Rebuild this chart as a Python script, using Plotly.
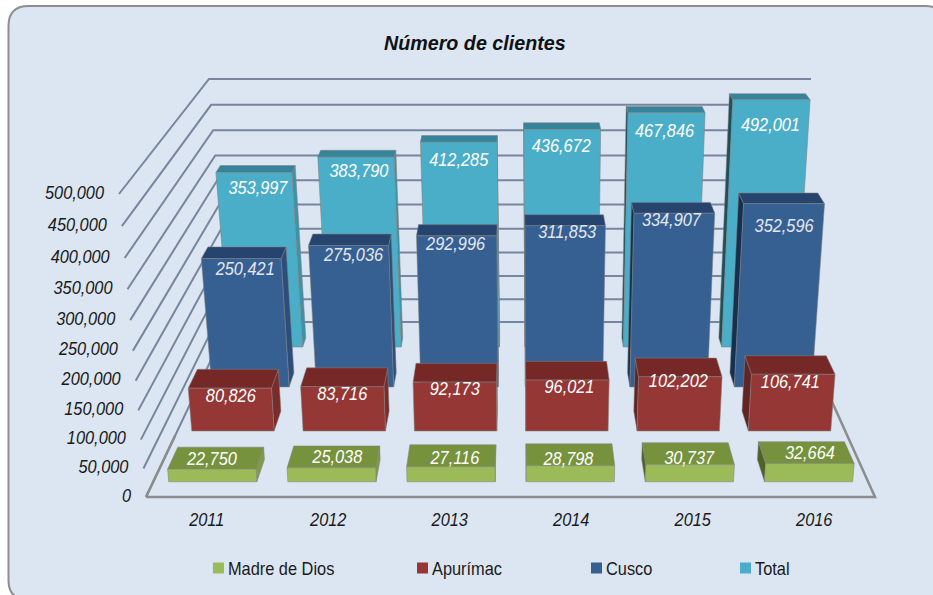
import plotly.graph_objects as go

# ---------- data ----------
years = ["2011", "2012", "2013", "2014", "2015", "2016"]
madre_de_dios = [22750, 25038, 27116, 28798, 30737, 32664]
apurimac = [80826, 83716, 92173, 96021, 102202, 106741]
cusco = [250421, 275036, 292996, 311853, 334907, 352596]
total = [353997, 383790, 412285, 436672, 467846, 492001]
value_ticks = [0, 50000, 100000, 150000, 200000, 250000, 300000, 350000, 400000, 450000, 500000]
title_text = "Número de clientes"

# ---------- 3D view of the chart box, drawn on a pixel-sized cartesian axis ----------
VMAX = 500000
FRONT = dict(xl=146, xr=875, y=497, h=303, ll=27, lr=27)
BACK = dict(xl=229, xr=796, y=322, h=243, ll=20, lr=15)
G = 1.07
BAR_W = 0.37
FONT = "'Liberation Sans', Arial, sans-serif"


def lift(v):
    r = v / VMAX
    return r / (G - (G - 1) * r)


def project(u, t, v):
    f = lift(v)
    lerp = lambda k: FRONT[k] * (1 - t) + BACK[k] * t
    xl = lerp("xl") - lerp("ll") * f
    xr = lerp("xr") + lerp("lr") * f
    return xl + (xr - xl) * u, lerp("y") - lerp("h") * f


rows = [
    dict(name="Total", values=total, t=(0.857, 0.909),
         front="#4BAEC8", top="#35849A", right="#3C93AA", left="#1D4F5C", label="#FFFFFF", dy=18,
         ndx=[4, 3, 0, -1, -2, -1], ndy=[-1, -3, 1, 0, 2, 9]),
    dict(name="Cusco", values=cusco, t=(0.629, 0.709),
         front="#376092", top="#27446E", right="#2B4E7A", left="#16304F", label="#E3E7EE", dy=16,
         ndx=[4, 5, -1, 2, -3, 0], ndy=[-4, -5, -7, -8, -8, 8]),
    dict(name="Apurímac", values=apurimac, t=(0.377, 0.491),
         front="#953735", top="#752826", right="#7B2B29", left="#632423", label="#FFFFFF", dy=9,
         ndx=[1, 0, 0, 2, -2, -3], ndy=[0, 0, -1, -1, -3, 0]),
    dict(name="Madre de Dios", values=madre_de_dios, t=(0.087, 0.214),
         front="#9BBB59", top="#76923C", right="#7F9C45", left="#4F6228", label="#FFFFFF", dy=-9,
         ndx=[0, 6, 4, -2, -1, 0], ndy=[0, -1, 2, 4, 4, 0]),
]
legend_pos = {"Madre de Dios": 0.2127, "Apurímac": 0.4314, "Cusco": 0.6179, "Total": 0.7776}

fig = go.Figure()


def line(xs, ys, color, width):
    fig.add_trace(go.Scatter(x=xs, y=ys, mode="lines", line=dict(color=color, width=width),
                             hoverinfo="skip", showlegend=False))


# walls and floor
for v in value_ticks[1:]:
    p0, p1, p2 = project(0, 0, v), project(0, 1, v), project(1, 1, v)
    line([p0[0], p1[0], p2[0]], [p0[1], p1[1], p2[1]], "#76869F", 2)
p0, p1, p2 = project(0, 1, 0), project(1, 1, 0), project(0, 0, 0)
line([p2[0], p0[0], p1[0]], [p2[1], p0[1], p1[1]], "#76869F", 2)
a, b, c = project(0, 0, 0), project(1, 0, 0), project(1, 1, 0)
line([a[0], b[0], c[0]], [a[1], b[1], c[1]], "#8C8C8C", 2.5)
a2 = project(0, 0.35, 0)
line([a[0], a2[0]], [a[1], a2[1]], "#8C8C8C", 2.5)


def polygons(polys, color):
    xs, ys = [], []
    for poly in polys:
        xs += [p[0] for p in poly] + [poly[0][0], None]
        ys += [p[1] for p in poly] + [poly[0][1], None]
    fig.add_trace(go.Scatter(x=xs, y=ys, mode="lines", fill="toself", fillcolor=color,
                             line=dict(color="rgba(130,130,130,0.55)", width=1),
                             hoverinfo="skip", showlegend=False))


n = len(years)
for row in rows:
    t0, t1 = row["t"]
    fronts, tops, rights, lefts = [], [], [], []
    for i, val in enumerate(row["values"]):
        ul, ur = (i + 0.5) / n - BAR_W / n, (i + 0.5) / n + BAR_W / n
        fl0, fr0 = project(ul, t0, 0), project(ur, t0, 0)
        fl1, fr1 = project(ul, t0, val), project(ur, t0, val)
        bl0, br0 = project(ul, t1, 0), project(ur, t1, 0)
        bl1, br1 = project(ul, t1, val), project(ur, t1, val)
        fronts.append([fl0, fr0, fr1, fl1])
        tops.append([fl1, fr1, br1, bl1])
        if br1[0] > fr1[0]:
            rights.append([fr0, br0, br1, fr1])
        if bl1[0] < fl1[0]:
            lefts.append([fl0, bl0, bl1, fl1])
    for polys, key in ((rights, "right"), (lefts, "left"), (tops, "top"), (fronts, "front")):
        if polys:
            polygons(polys, row[key])

# value labels (drawn after every bar)
for row in rows:
    t0, t1 = row["t"]
    xs, ys, tx = [], [], []
    for i, val in enumerate(row["values"]):
        p = project((i + 0.5) / n, t0, val)
        xs.append(p[0] + row["ndx"][i])
        ys.append(p[1] + row["dy"] + row["ndy"][i])
        tx.append(f"{val:,}")
    fig.add_trace(go.Scatter(x=xs, y=ys, mode="text", text=tx, textposition="middle center",
                             textfont=dict(family=FONT, size=19, color=row["label"], style="italic"),
                             hoverinfo="skip", showlegend=False))

# value axis labels
pts = [project(0, 0, v) for v in value_ticks]
fig.add_trace(go.Scatter(x=[p[0] - 15 for p in pts], y=[p[1] for p in pts], mode="text",
                         text=[f"{v:,}" for v in value_ticks], textposition="middle left",
                         textfont=dict(family=FONT, size=19, color="#1A1A1A", style="italic"),
                         hoverinfo="skip", showlegend=False))
# category labels
pts = [project((i + 0.5) / n, 0, 0) for i in range(n)]
fig.add_trace(go.Scatter(x=[p[0] for p in pts], y=[p[1] + 24 for p in pts], mode="text",
                         text=years, textposition="middle center",
                         textfont=dict(family=FONT, size=19, color="#1A1A1A", style="italic"),
                         hoverinfo="skip", showlegend=False))

# legends
layout_legends = {}
for k, row in enumerate(reversed(rows)):
    lname = "legend" if k == 0 else f"legend{k + 1}"
    fig.add_trace(go.Scatter(x=[None], y=[None], mode="markers", name=row["name"],
                             marker=dict(symbol="square", size=11, color=row["front"]),
                             legend=lname, showlegend=True))
    layout_legends[lname] = dict(x=legend_pos[row["name"]], y=0.045, xanchor="left", yanchor="middle",
                                 bgcolor="rgba(0,0,0,0)", borderwidth=0,
                                 font=dict(family=FONT, size=18, color="#1A1A1A"))

card = "M 8.5 26 Q 8.5 6 28.5 6 L 925 6 Q 945 6 945 26 L 945 580 Q 945 600 925 600 L 28.5 600 Q 8.5 600 8.5 580 Z"

fig.update_layout(
    width=933, height=595, margin=dict(l=0, r=0, t=0, b=0),
    paper_bgcolor="#FFFFFF", plot_bgcolor="#FFFFFF",
    xaxis=dict(range=[0, 933], visible=False, fixedrange=True),
    yaxis=dict(range=[595, 0], visible=False, fixedrange=True),
    shapes=[dict(type="path", path=card, xref="x", yref="y", fillcolor="#DCE6F2",
                 line=dict(color="#8E8E8E", width=2), layer="below")],
    annotations=[dict(x=474.5, y=43, xref="x", yref="y", text=f"<b><i>{title_text}</i></b>", showarrow=False,
                      font=dict(family=FONT, size=19.7, color="#111111"))],
    **layout_legends,
)

# No narrow font is installed, so the real text nodes are condensed horizontally about their anchors.
condense = """
document.body.style.margin = '0';
var gd = document.getElementById('{plot_id}');
function condense() {
  gd.querySelectorAll('.textpoint text').forEach(function (el) {
    var x0 = parseFloat(el.getAttribute('x')) || 0;
    el.setAttribute('transform', 'translate(' + x0 + ',0) scale(0.86,1) translate(' + (-x0) + ',0)');
  });
  gd.querySelectorAll('text[class^="legend"]').forEach(function (el) {
    var x0 = parseFloat(el.getAttribute('x')) || 0;
    el.setAttribute('transform', 'translate(' + (x0 - 10.5) + ',0) scale(0.91,1) translate(' + (-x0) + ',0)');
  });
}
condense(); setTimeout(condense, 0); setTimeout(condense, 150);
gd.on && gd.on('plotly_afterplot', condense);
"""
fig.write_html("out.html", post_script=condense, config={"displayModeBar": False})
